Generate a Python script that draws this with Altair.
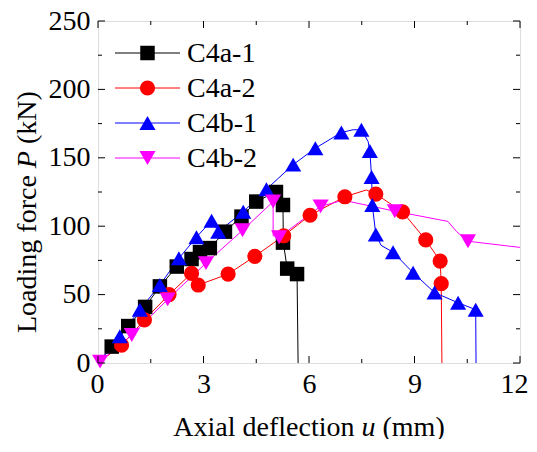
import altair as alt
import pandas as pd

series = ["C4a-1", "C4a-2", "C4b-1", "C4b-2"]
colors = ["#000000", "#ff0000", "#0000ff", "#ff00ff"]
shapes = ["square", "circle", "triangle-up", "triangle-down"]

# ---- curve (line) data ----
a1_line_x = [0, 0.39, 0.86, 1.34, 1.76, 2.24, 2.66, 2.9, 3.18, 3.61, 4.08, 4.5, 5.06, 5.22, 5.26, 5.27, 5.38, 5.66, 5.69]
a1_line_y = [0, 12, 27, 41, 56, 70.5, 76, 81, 84, 96, 107, 118, 125, 126, 115.5, 88, 69, 65, 0]
a2_line_x = [0, 0.67, 1.32, 2.02, 2.66, 2.85, 3.7, 4.46, 5.28, 6.03, 7.02, 7.63, 7.9, 8.66, 9.32, 9.73, 9.76, 9.78]
a2_line_y = [0, 13, 31.5, 50, 65.5, 57, 65, 78, 93, 108, 121.5, 126.5, 123.5, 110.5, 90, 74.5, 58, 0]
b1_line_x = [0, 0.62, 1.19, 1.76, 2.3, 2.8, 3.23, 3.42, 4.13, 4.79, 5.55, 6.18, 6.92, 7.25, 7.49, 7.68, 7.73, 7.78, 7.8, 7.9, 8.05, 8.39, 8.96, 9.57, 10.24, 10.74, 10.75]
b1_line_y = [0, 19.5, 39, 57, 76.5, 92, 104, 96, 110.5, 127, 145, 157, 168.5, 170.5, 170.5, 162, 155, 136, 115.5, 94, 86, 81, 66, 51.5, 44, 39, 0]
b2_line_x = [0, 0.06, 0.96, 1.98, 3.07, 4.11, 4.98, 4.98, 5.15, 6.33, 6.97, 8.44, 9.95, 10.2, 10.52, 12.0]
b2_line_y = [0, 1, 20.5, 46.5, 73, 97, 118, 93, 92, 114.5, 119, 111, 103.5, 96, 89, 84.5]

# ---- marker data ----
a1_mark_x = [0.39, 0.86, 1.34, 1.76, 2.24, 2.66, 2.9, 3.18, 3.61, 4.08, 4.5, 5.06, 5.26, 5.26, 5.38, 5.66]
a1_mark_y = [12, 27, 41, 56, 70.5, 76, 81, 84, 96, 107, 118, 125, 115.5, 88, 69, 65]
a2_mark_x = [0.67, 1.32, 2.02, 2.66, 2.85, 3.7, 4.46, 5.28, 6.03, 7.02, 7.9, 8.66, 9.32, 9.73, 9.76]
a2_mark_y = [13, 31.5, 50, 65.5, 57, 65, 78, 93, 108, 121.5, 123.5, 110.5, 90, 74.5, 58]
b1_mark_x = [0.62, 1.19, 1.76, 2.3, 2.8, 3.23, 3.42, 4.13, 4.79, 5.55, 6.18, 6.92, 7.49, 7.73, 7.78, 7.8, 7.9, 8.39, 8.96, 9.57, 10.24, 10.74]
b1_mark_y = [19.5, 39, 57, 76.5, 92, 104, 96, 110.5, 127, 145, 157, 168.5, 170.5, 155, 136, 115.5, 94, 81, 66, 51.5, 44, 39]
b2_mark_x = [0.06, 0.96, 1.98, 3.07, 4.11, 4.98, 5.15, 6.33, 8.44, 10.52]
b2_mark_y = [1, 20.5, 46.5, 73, 97, 118, 92, 114.5, 111, 89]

x_major = [0, 3, 6, 9, 12]
x_minor = [1.5, 4.5, 7.5, 10.5]
y_major = [0, 50, 100, 150, 200, 250]
y_minor = [25, 75, 125, 175, 225]

x_title_parts = ["Axial deflection", "u", "(mm)"]
y_title_parts = ["Loading force", "P", "(kN)"]

line_sets = [(a1_line_x, a1_line_y), (a2_line_x, a2_line_y), (b1_line_x, b1_line_y), (b2_line_x, b2_line_y)]
mark_sets = [(a1_mark_x, a1_mark_y), (a2_mark_x, a2_mark_y), (b1_mark_x, b1_mark_y), (b2_mark_x, b2_mark_y)]

rows = []
for s, (xs, ys) in zip(series, line_sets):
    for i, (x, y) in enumerate(zip(xs, ys)):
        rows.append({"series": s, "u": x, "P": y, "idx": i})
line_df = pd.DataFrame(rows)

W, H = 422, 342
FONT = "Liberation Serif"
FS = 28
xscale = alt.Scale(domain=[0, 12], nice=False, zero=False)
yscale = alt.Scale(domain=[0, 250], nice=False)
cscale = alt.Scale(domain=series, range=colors)

x_axis = alt.Axis(values=x_major, ticks=False, grid=False, domain=False,
                  labelFont=FONT, labelFontSize=FS, labelColor="black", labelPadding=7,
                  labelOverlap=False, labelFlush=True, labelFlushOffset=8, title=None)
y_axis = alt.Axis(values=y_major, ticks=False, grid=False, domain=False,
                  labelFont=FONT, labelFontSize=FS, labelColor="black", labelPadding=8,
                  labelOverlap=False, labelFlush=False, title=None)


def X(field="u"):
    return alt.X(f"{field}:Q", scale=xscale, axis=x_axis)


def Y(field="P"):
    return alt.Y(f"{field}:Q", scale=yscale, axis=y_axis)


lines = alt.Chart(line_df).mark_line(strokeWidth=1, clip=True).encode(
    x=X(), y=Y(),
    color=alt.Color("series:N", scale=cscale, legend=None),
    detail="series:N",
    order="idx:Q",
)

point_layers = []
for s, c, shp, (xs, ys) in zip(series, colors, shapes, mark_sets):
    df = pd.DataFrame({"u": xs, "P": ys})
    size = 210 if shp == "square" else (230 if shp == "circle" else 260)
    point_layers.append(
        alt.Chart(df).mark_point(filled=True, shape=shp, size=size, color=c, opacity=1, strokeWidth=0).encode(
            x=X(), y=Y(),
        )
    )

# ---- manual legend (line + marker + label) ----
legend_layers = []
for i, (s, c, shp) in enumerate(zip(series, colors, shapes)):
    ldf = pd.DataFrame({"series": [s]})
    ly = 32 + 35 * i
    size = 210 if shp == "square" else (230 if shp == "circle" else 260)
    legend_layers.append(alt.Chart(ldf).mark_rule(color=c, strokeWidth=1).encode(
        x=alt.value(17), x2=alt.value(82), y=alt.value(ly)))
    legend_layers.append(alt.Chart(ldf).mark_point(filled=True, shape=shp, size=size, color=c, opacity=1, strokeWidth=0).encode(
        x=alt.value(49.5), y=alt.value(ly)))
    legend_layers.append(alt.Chart(ldf).mark_text(font=FONT, fontSize=FS, align="left", baseline="middle", color="black").encode(
        x=alt.value(89), y=alt.value(ly + 1), text="series:N"))


# ---- inward ticks on all four sides ----
def tick_layer(vals, channel, length):
    df = pd.DataFrame({"v": vals})
    base = alt.Chart(df).mark_rule(color="black", strokeWidth=1)
    if channel == "x":
        return [base.encode(x=X("v"), y=alt.value(H), y2=alt.value(H - length)),
                base.encode(x=X("v"), y=alt.value(0), y2=alt.value(length))]
    return [base.encode(y=Y("v"), x=alt.value(0), x2=alt.value(length)),
            base.encode(y=Y("v"), x=alt.value(W), x2=alt.value(W - length))]


ticks = (tick_layer(x_major, "x", 7) + tick_layer(x_minor, "x", 4)
         + tick_layer(y_major, "y", 7) + tick_layer(y_minor, "y", 4))


# ---- axis titles with italic symbols ----
def title_piece(text, x, y, italic, angle=0):
    kw = dict(font=FONT, fontSize=FS, baseline="middle", align="left", color="black", text=text)
    if italic:
        kw["fontStyle"] = "italic"
    if angle:
        kw["angle"] = angle
    return alt.Chart(pd.DataFrame({"t": [text]})).mark_text(**kw).encode(x=alt.value(x), y=alt.value(y))


xt0 = 75.3
xt_pos = [xt0, xt0 + 188.2, xt0 + 188.2 + 14 + 7]
yt0 = 312
yt_pos = [yt0, yt0 - 164.8, yt0 - 164.8 - 17.1 - 7]
titles = []
for txt, px, it in zip(x_title_parts, xt_pos, [False, True, False]):
    titles.append(title_piece(txt, px, 407, it))
for txt, py, it in zip(y_title_parts, yt_pos, [False, True, False]):
    titles.append(title_piece(txt, -70, py, it, angle=270))

chart = alt.layer(lines, *point_layers, *ticks, *legend_layers, *titles).properties(
    width=W, height=H,
    autosize=alt.AutoSizeParams(type="none"),
    padding={"left": 90, "top": 13, "right": 9, "bottom": 76},
).configure_view(stroke="#222222", strokeWidth=2).configure(background="white")

chart.save("out.html", embed_options={"renderer": "svg", "actions": False})
